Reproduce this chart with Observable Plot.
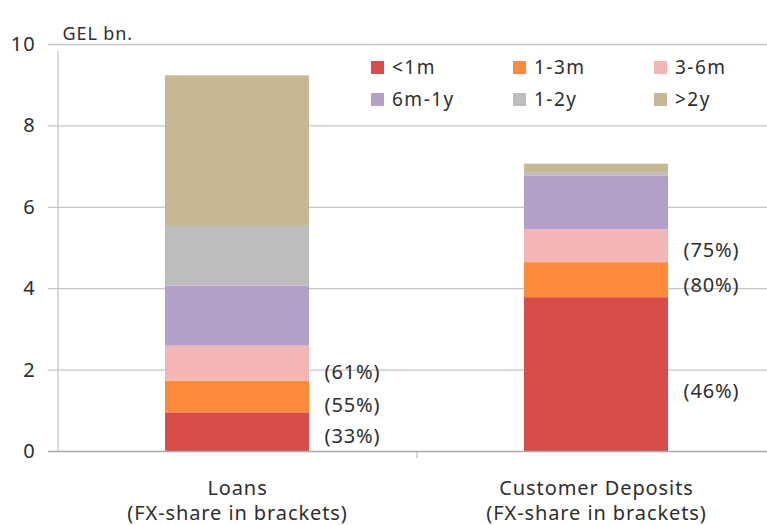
<!DOCTYPE html>
<html>
<head>
<meta charset="utf-8">
<script src="https://cdn.jsdelivr.net/npm/d3@7"></script>
<script src="https://cdn.jsdelivr.net/npm/@observablehq/plot@0.6"></script>
<style>
  html, body { margin: 0; padding: 0; background: #fff; }
  #wrap { position: relative; width: 767px; height: 525px; font-family: "Noto Sans", sans-serif; color: #2e2e2e; }
  #legend { position: absolute; left: 371px; top: 55px; display: grid; grid-template-columns: 142px 141px 110px; row-gap: 8px; font-size: 19px; letter-spacing: 1.5px; }
  #legend .item { display: flex; align-items: center; height: 24px; }
  #legend .sw { width: 13px; height: 13px; margin-right: 8px; flex: none; }
</style>
</head>
<body>
<div id="wrap"><div id="legend"></div></div>
<script>
// ---- data ----
const categories = ["Loans", "Customer Deposits"];
const categoryLabels = ["Loans\n(FX-share in brackets)", "Customer Deposits\n(FX-share in brackets)"];
const bands = ["<1m", "1-3m", "3-6m", "6m-1y", "1-2y", ">2y"];
const bandColors = ["#d84d4a", "#fd8b3a", "#f3b5b5", "#b3a0c9", "#bdbdbd", "#c6b892"];
const loans = [0.95, 0.78, 0.86, 1.47, 1.47, 3.70];
const deposits = [3.78, 0.86, 0.81, 1.31, 0.09, 0.21];
const loansFx = ["(33%)", "(55%)", "(61%)"];
const loansFxAt = [0.37, 1.13, 1.95];
const depositsFx = ["(46%)", "(80%)", "(75%)"];
const depositsFxAt = [1.46, 4.08, 4.93];
const yTicks = [0, 2, 4, 6, 8, 10];
const yLabel = "GEL bn.";

// ---- tables ----
const rows = [];
bands.forEach((b, i) => rows.push({cat: categories[0], band: b, value: loans[i]}));
bands.forEach((b, i) => rows.push({cat: categories[1], band: b, value: deposits[i]}));
const fx = [];
loansFx.forEach((t, i) => fx.push({cat: categories[0], text: t, at: loansFxAt[i]}));
depositsFx.forEach((t, i) => fx.push({cat: categories[1], text: t, at: depositsFxAt[i]}));

const textColor = "#2e2e2e";
const gridColor = "#c6c6c6";

const plot = Plot.plot({
  width: 767,
  height: 525,
  marginLeft: 57,
  marginRight: 0,
  marginTop: 44,
  marginBottom: 74,
  style: {fontFamily: "'Noto Sans', sans-serif", fontSize: "20px", color: textColor, letterSpacing: "0.9px", overflow: "visible"},
  x: {type: "band", domain: categories, range: [57, 775], paddingInner: 0.6, paddingOuter: 0.3, axis: null},
  y: {domain: [0, 10], axis: null},
  color: {domain: bands, range: bandColors},
  marks: [
    Plot.ruleY(yTicks.filter(d => d > 0), {y: d => d, stroke: gridColor, strokeWidth: 1.3, insetLeft: -9}),
    Plot.ruleX([categories[0]], {x: d => d, dx: -179.5, y1: 0, y2: 10, stroke: gridColor, strokeWidth: 1.3, insetBottom: -7}),
    Plot.ruleX([categories[1]], {x: d => d, dx: -179.5, y1: 0, y2: 0, stroke: gridColor, strokeWidth: 1.3, insetBottom: -7}),
    Plot.barY(rows, {x: "cat", y: "value", fill: "band"}),
    Plot.ruleY([0], {stroke: "#a9a9a9", strokeWidth: 1.3, insetLeft: -9}),
    Plot.axisY({ticks: yTicks, tickSize: 0, tickPadding: 22, fill: textColor, fontSize: 20}),
    Plot.text(fx, {x: "cat", y: "at", text: "text", textAnchor: "start", dx: 87, fill: textColor, fontSize: 20}),
    Plot.text(categories, {x: d => d, text: (d, i) => categoryLabels[i], frameAnchor: "bottom", lineAnchor: "top", dy: 26, lineHeight: 1.25, fill: textColor, fontSize: 20}),
    Plot.text([yLabel], {text: d => d, frameAnchor: "top-left", textAnchor: "start", dx: 5, dy: -17, fill: textColor, fontSize: 18})
  ]
});
document.getElementById("wrap").prepend(plot);

const legend = document.getElementById("legend");
bands.forEach((b, i) => {
  const item = document.createElement("div");
  item.className = "item";
  const sw = document.createElement("span");
  sw.className = "sw";
  sw.style.background = bandColors[i];
  const t = document.createElement("span");
  t.textContent = b;
  item.appendChild(sw);
  item.appendChild(t);
  legend.appendChild(item);
});
</script>
</body>
</html>
